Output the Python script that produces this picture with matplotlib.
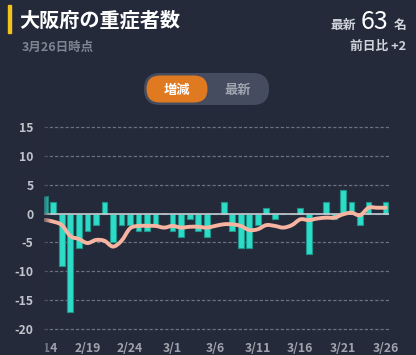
import matplotlib
matplotlib.use('Agg')
import matplotlib.pyplot as plt
import numpy as np
from matplotlib.patches import FancyBboxPatch, Rectangle, PathPatch
from matplotlib.path import Path

plt.rcParams['font.family'] = ['Noto Sans CJK JP', 'DejaVu Sans']

# ---------------- data ----------------
dates = ['2/14', '2/15', '2/16', '2/17', '2/18', '2/19', '2/20', '2/21', '2/22', '2/23',
         '2/24', '2/25', '2/26', '2/27', '2/28', '3/1', '3/2', '3/3', '3/4', '3/5',
         '3/6', '3/7', '3/8', '3/9', '3/10', '3/11', '3/12', '3/13', '3/14', '3/15',
         '3/16', '3/17', '3/18', '3/19', '3/20', '3/21', '3/22', '3/23', '3/24', '3/25',
         '3/26']
daily_change = [3, 2, -9, -17, -6, -3, -2, 2, -5, -2,
                -2, -3, -3, -2, 0, -3, -4, -1, -3, -4,
                0, 2, -3, -6, -6, -2, 1, -1, 0, 0,
                1, -7, 0, 2, -1, 4, 2, -2, 2, 0,
                2]
avg7 = [-1.1, -1.4, -2.0, -3.9, -4.4, -5.1, -4.57, -4.71, -5.71, -4.71,
        -2.57, -2.14, -2.14, -2.14, -2.43, -2.14, -2.43, -2.29, -2.29, -2.43,
        -2.14, -1.86, -1.86, -2.14, -2.86, -2.71, -2.0, -2.14, -2.43, -2.0,
        -1.0, -1.14, -0.86, -0.71, -0.71, -0.14, 0.14, -0.29, 1.0, 1.0,
        1.0]
xtick_labels = ['2/14', '2/19', '2/24', '3/1', '3/6', '3/11', '3/16', '3/21', '3/26']
yticks = [15, 10, 5, 0, -5, -10, -15, -20]

title = '大阪府の重症者数'
subtitle = '3月26日時点'
latest_value = '63'
diff_text = '前日比 +2'

# ---------------- style ----------------
BG = '#252a3b'
BAR = '#2ddcc8'
BAR_EDGE = '#1f9488'
LINE = '#f7b4a0'
W, H = 416, 355

fig = plt.figure(figsize=(W / 100, H / 100), dpi=100)
fig.patch.set_facecolor(BG)

bg = fig.add_axes([0, 0, 1, 1], zorder=0)
bg.set_xlim(0, W)
bg.set_ylim(H, 0)
bg.axis('off')

# header
bg.add_patch(Rectangle((7.5, 5), 3.5, 28, color='#f2c31b'))
bg.text(19, 20, title, fontsize=14.5, fontweight='bold', color='white', va='center', ha='left')
bg.text(22, 47.5, subtitle, fontsize=9, fontweight='bold', color='#7f8491', va='center', ha='left')
bg.text(356, 25, '最新', fontsize=9.2, fontweight='bold', color='#d0d3da', va='center', ha='right')
bg.text(375, 22, latest_value, fontsize=18, color='white', va='center', ha='center')
bg.text(406, 25, '名', fontsize=9.2, fontweight='bold', color='#d0d3da', va='center', ha='right')
bg.text(406, 46.5, diff_text, fontsize=9.2, fontweight='bold', color='#d0d3da', va='center', ha='right')

# toggle
bg.add_patch(FancyBboxPatch((144, 73), 125, 32, boxstyle='round,pad=0,rounding_size=16',
                            facecolor='#454c5f', edgecolor='none'))
bg.add_patch(FancyBboxPatch((146.5, 75.5), 61, 27, boxstyle='round,pad=0,rounding_size=13.5',
                            facecolor='#e07a20', edgecolor='none'))
bg.text(177, 89.5, '増減', fontsize=9.5, fontweight='bold', color='white', va='center', ha='center')
bg.text(238, 89.5, '最新', fontsize=9.5, fontweight='bold', color='#a0a5b0', va='center', ha='center')

# ---------------- chart ----------------
px_per_unit = (329.3 - 126.7) / 35.0
y_top = 126.7 - px_per_unit
y_bot = 329.3 + px_per_unit
x_left, x_right = 44, 389
ax = fig.add_axes([x_left / W, 1 - y_bot / H, (x_right - x_left) / W, (y_bot - y_top) / H], zorder=2)
ax.set_facecolor('none')
for s in ax.spines.values():
    s.set_visible(False)

x = np.arange(len(dates))
ax.bar(x, daily_change, width=0.68, color=BAR, edgecolor=BAR_EDGE, linewidth=0.8, zorder=3)

# smooth line (Catmull-Rom style Bezier through the points)
ys = np.array(avg7, dtype=float)
verts = [(x[0], ys[0])]
codes = [Path.MOVETO]
k = 1 / 6.0
for i in range(len(x) - 1):
    p0 = (x[max(i - 1, 0)], ys[max(i - 1, 0)])
    p1 = (x[i], ys[i])
    p2 = (x[i + 1], ys[i + 1])
    p3 = (x[min(i + 2, len(x) - 1)], ys[min(i + 2, len(x) - 1)])
    c1 = (p1[0] + k * (p2[0] - p0[0]), p1[1] + k * (p2[1] - p0[1]))
    c2 = (p2[0] - k * (p3[0] - p1[0]), p2[1] - k * (p3[1] - p1[1]))
    verts += [c1, c2, p2]
    codes += [Path.CURVE4, Path.CURVE4, Path.CURVE4]
ax.add_patch(PathPatch(Path(verts, codes), facecolor='none', edgecolor=LINE, lw=2.8,
                       capstyle='round', joinstyle='round', zorder=4))

ax.axhline(0, color='#c9ccd3', lw=1.2, zorder=3.5)
for yt in yticks:
    if yt != 0:
        ax.axhline(yt, color='#6c7182', lw=0.9, ls=(0, (2.6, 1.6)), zorder=1)

ax.set_xlim(-0.094, 40.4)
ax.set_ylim(-21, 16)
ax.set_yticks(yticks)
ax.set_yticklabels([str(v) for v in yticks], fontweight='bold')
ax.set_xticks([dates.index(d) for d in xtick_labels])
ax.set_xticklabels(xtick_labels, fontweight='bold')
ax.tick_params(axis='y', length=0, pad=7.5, labelsize=8.8, labelcolor='#bfc3cb')
ax.tick_params(axis='x', length=0, pad=5, labelsize=8.8, labelcolor='#9ea3ad')

# ---------------- overlay: left fade / clip of scrolled area ----------------
ov = fig.add_axes([0, 0, 1, 1], zorder=5)
ov.set_facecolor('none')
ov.set_xlim(0, W)
ov.set_ylim(H, 0)
ov.axis('off')
bg_rgb = np.array(matplotlib.colors.to_rgb(BG))
grad = np.zeros((1, 64, 4))
grad[..., :3] = bg_rgb
grad[0, :, 3] = np.linspace(0.95, 0.0, 64)
ov.imshow(grad, extent=[40, 51, H, 118], aspect='auto', interpolation='bilinear', zorder=1)
ov.add_patch(Rectangle((0, 337), 44, 18, color=BG, zorder=2))
ov.set_xlim(0, W)
ov.set_ylim(H, 0)

fig.savefig('out.png', dpi=100, facecolor=BG)
